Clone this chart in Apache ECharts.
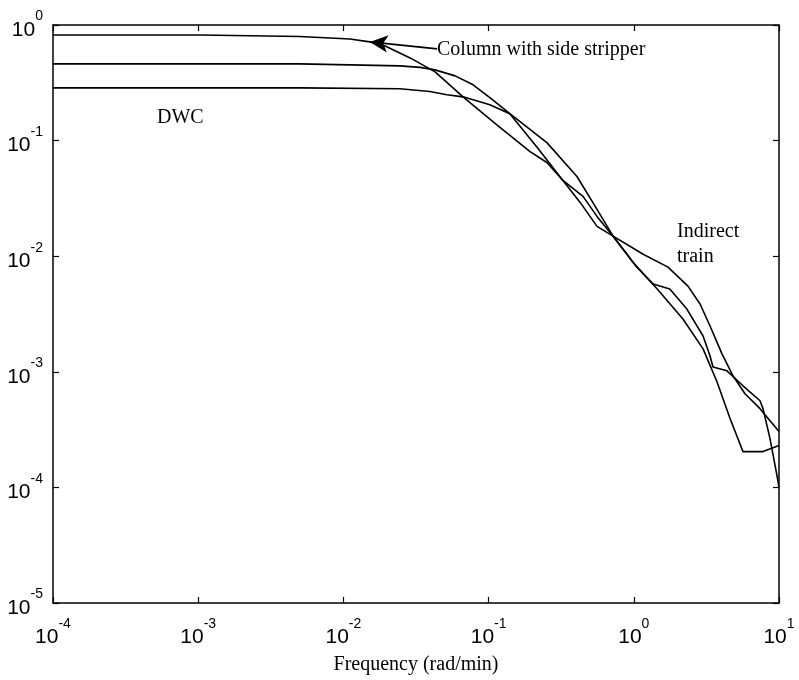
<!DOCTYPE html>
<html>
<head>
    <meta charset="utf-8">
    <title>Frequency response</title>
    <script src="https://cdn.jsdelivr.net/npm/echarts@6/dist/echarts.min.js"></script>
    <style>
        html, body { margin: 0; padding: 0; background: #fff; }
    </style>
</head>
<body>
    <div id="main" style="width: 799px;height:680px;"></div>
    <script type="text/javascript">
        // values (frequency in rad/min, magnitude)
        var xTicks = [1e-4, 1e-3, 1e-2, 1e-1, 1, 10];
        var yTicks = [1e-5, 1e-4, 1e-3, 1e-2, 1e-1, 1];

        // column with side stripper (top curve)
        var cssFreq = [1e-4, 1.03e-3, 5.0e-3, 0.0111, 0.0152, 0.0194, 0.0288, 0.0428, 0.0667, 0.114, 0.193, 0.252,
            0.325, 0.427, 0.558, 0.72, 0.869, 1.05, 1.36, 1.77, 2.32, 3.0, 3.35, 3.51, 4.38, 5.65, 7.4, 7.76, 8.67, 9.68, 10];
        var cssMag = [0.82, 0.82, 0.796, 0.757, 0.714, 0.659, 0.519, 0.393, 0.239, 0.137, 0.0804, 0.0646,
            0.0452, 0.0292, 0.0181, 0.0149, 0.011, 0.00804, 0.00574, 0.0052, 0.00349, 0.00204, 0.00137, 0.0011, 0.00102,
            0.000757, 0.000562, 0.00048, 0.000264, 0.000127, 0.0001];

        // indirect train (middle curve)
        var indFreq = [1e-4, 5.0e-3, 0.0245, 0.0337, 0.0428, 0.0588, 0.0782, 0.102, 0.14, 0.215, 0.325, 0.447, 0.558,
            0.72, 1.16, 1.72, 2.36, 2.86, 3.35, 4.05, 4.82, 5.83, 7.4, 10];
        var indMag = [0.461, 0.461, 0.443, 0.43, 0.409, 0.363, 0.304, 0.235, 0.171, 0.088, 0.0452, 0.0329, 0.0221,
            0.0149, 0.0104, 0.00804, 0.00551, 0.00386, 0.00249, 0.00143, 0.000924, 0.000646, 0.00048, 0.000304];

        // DWC (bottom curve)
        var dwcFreq = [1e-4, 5.0e-3, 0.0245, 0.0394, 0.0516, 0.0667, 0.102, 0.14, 0.252, 0.406, 0.558, 0.72, 0.986,
            1.45, 2.18, 3.0, 3.74, 4.6, 5.65, 7.76, 10];
        var dwcMag = [0.286, 0.286, 0.281, 0.266, 0.249, 0.239, 0.204, 0.171, 0.0961, 0.0489, 0.0254, 0.0149, 0.00887,
            0.0052, 0.00286, 0.00158, 0.00082, 0.000394, 0.000204, 0.000204, 0.00023];

        // arrow of the "Column with side stripper" note
        var arrowFrom = [0.0442, 0.621];
        var arrowTo = [0.0152, 0.714];

        function pairs(xs, ys) {
            var out = [];
            for (var i = 0; i < xs.length; i++) out.push([xs[i], ys[i]]);
            return out;
        }

        function powLabel(v) {
            var e = Math.round(Math.log10(v));
            return '{b|10}{s|' + e + '}';
        }

        var labelRich = {
            b: { fontFamily: 'Liberation Sans', fontSize: 21, color: '#000', verticalAlign: 'bottom', lineHeight: 31 },
            s: { fontFamily: 'Liberation Sans', fontSize: 14, color: '#000', verticalAlign: 'top', lineHeight: 31 }
        };

        var lineCol = '#000';
        var serif = '"Liberation Serif", "Times New Roman", serif';

        var myChart = echarts.init(document.getElementById('main'));

        function axisBase(pos, lo, hi) {
            return {
                type: 'log',
                logBase: 10,
                position: pos,
                min: lo,
                max: hi,
                splitNumber: 5,
                axisLine: { show: true, onZero: false, lineStyle: { color: lineCol, width: 1.5 } },
                axisTick: { show: true, inside: true, length: 6, lineStyle: { color: lineCol, width: 1.2 } },
                splitLine: { show: false },
                minorTick: { show: false }
            };
        }

        var xMain = axisBase('bottom', xTicks[0], xTicks[xTicks.length - 1]);
        xMain.axisLabel = { formatter: powLabel, rich: labelRich, margin: 14 };
        xMain.name = 'Frequency (rad/min)';
        xMain.nameLocation = 'middle';
        xMain.nameGap = 52;
        xMain.nameTextStyle = { fontFamily: serif, fontSize: 20, color: '#000' };

        var xTop = axisBase('top', xTicks[0], xTicks[xTicks.length - 1]);
        xTop.axisLabel = { show: false };

        var yMain = axisBase('left', yTicks[0], yTicks[yTicks.length - 1]);
        yMain.axisLabel = { formatter: powLabel, rich: labelRich, margin: 10 };

        var yRight = axisBase('right', yTicks[0], yTicks[yTicks.length - 1]);
        yRight.axisLabel = { show: false };

        function curve(name, xs, ys) {
            return {
                name: name,
                type: 'line',
                xAxisIndex: 0,
                yAxisIndex: 0,
                data: pairs(xs, ys),
                showSymbol: false,
                symbol: 'none',
                smooth: false,
                animation: false,
                lineStyle: { color: lineCol, width: 1.6 }
            };
        }

        var cssSeries = curve('Column with side stripper', cssFreq, cssMag);
        cssSeries.markLine = {
            silent: true,
            animation: false,
            symbol: ['none', 'arrow'],
            symbolSize: [13, 18],
            label: { show: false },
            lineStyle: { color: lineCol, width: 1.6, type: 'solid' },
            data: [[{ coord: arrowFrom }, { coord: arrowTo }]]
        };

        var option = {
            backgroundColor: '#fff',
            animation: false,
            grid: { left: 53, right: 20, top: 25, bottom: 75, containLabel: false },
            xAxis: [xMain, xTop],
            yAxis: [yMain, yRight],
            series: [
                cssSeries,
                curve('Indirect train', indFreq, indMag),
                curve('DWC', dwcFreq, dwcMag)
            ],
            graphic: [
                { type: 'text', x: 437, y: 50, style: { text: 'Column with side stripper', font: '20px ' + serif, fill: '#000', verticalAlign: 'middle' } },
                { type: 'text', x: 157, y: 118, style: { text: 'DWC', font: '20px ' + serif, fill: '#000', verticalAlign: 'middle' } },
                { type: 'text', x: 677, y: 232, style: { text: 'Indirect', font: '20px ' + serif, fill: '#000', verticalAlign: 'middle' } },
                { type: 'text', x: 677, y: 257, style: { text: 'train', font: '20px ' + serif, fill: '#000', verticalAlign: 'middle' } }
            ]
        };

        myChart.setOption(option);
    </script>
</body>
</html>
